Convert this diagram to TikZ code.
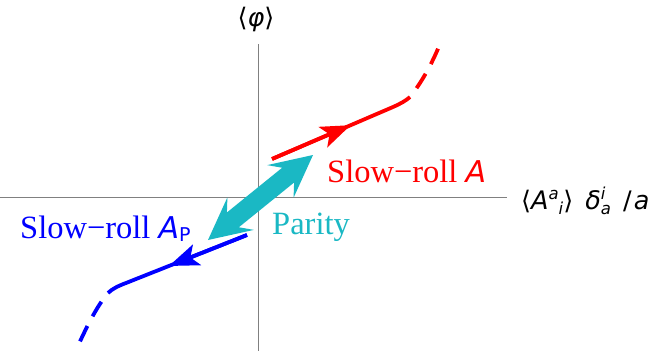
\documentclass[tikz,border=0pt]{standalone}
\usepackage{fontspec}
\setmainfont{Liberation Serif}
\newfontfamily\axf{DejaVu Sans}
\usetikzlibrary{arrows.meta,calc}
\definecolor{parc}{RGB}{26,184,196}
\definecolor{axc}{RGB}{128,128,128}
\newcommand\supx[1]{\raisebox{10pt}{\fontsize{16.5}{16.5}\selectfont\itshape #1}}
\newcommand\subx[1]{\raisebox{-5pt}{\fontsize{16.5}{16.5}\selectfont\itshape #1}}
\begin{document}
\begin{tikzpicture}[x=1pt,y=-1pt,
  axis/.style={draw=axc,line width=1pt},
  curve/.style={line width=3.8pt},
  dashpart/.style={line width=3.8pt,dash pattern=on 17pt off 11pt,dash phase=17pt},
  headtip/.style={-{Stealth[length=30pt,width=22pt,inset=7pt]}},
  dbl/.style={fill=parc},
  lbl/.style={inner sep=0pt,anchor=base west,font=\fontsize{32.5}{33}\selectfont},
  axl/.style={inner sep=0pt,font=\axf\fontsize{25.5}{25.5}\selectfont}]
\useasboundingbox (0,0) rectangle (651,351);
% axes
\coordinate (xl) at (0,197);
\coordinate (xr) at (507,197);
\coordinate (yt) at (258,44);
\coordinate (yb) at (258,351);
\draw[axis] (xl) -- (xr);
\draw[axis] (yt) -- (yb);
% red branch
\coordinate (r0) at (272,159);
\coordinate (r1) at (393,107);
\coordinate (r2) at (410,97);
\coordinate (r3) at (440,44);
\draw[curve,red] (r0) -- (r1) .. controls (401,103.5) and (406,100.5) .. (r2);
\draw[dashpart,red] (r2) .. controls (421,83) and (431,66) .. (r3);
\path (r0) -- (r1) coordinate[pos=0.65] (rm);
\draw[curve,red,headtip] (r0) -- (rm);
% blue branch
\coordinate (b0) at (247,235);
\coordinate (b1) at (126,283);
\coordinate (b2) at (108,293);
\coordinate (b3) at (77,348);
\draw[curve,blue] (b0) -- (b1) .. controls (118,286) and (112,289) .. (b2);
\draw[dashpart,blue] (b2) .. controls (97,306) and (87,326) .. (b3);
\path (b0) -- (b1) coordinate[pos=0.645] (bm);
\draw[curve,blue,headtip] (b0) -- (bm);
% parity double arrow (outline polygon)
\coordinate (pu) at (313,155);
\coordinate (pl) at (208,240);
\fill[dbl] (pl)
  -- ($(pl)!42pt!(pu)!21pt!90:(pu)$)
  -- ($(pl)!32pt!(pu)!9.5pt!90:(pu)$)
  -- ($(pu)!32pt!(pl)!9.5pt!-90:(pl)$)
  -- ($(pu)!42pt!(pl)!21pt!-90:(pl)$)
  -- (pu)
  -- ($(pu)!42pt!(pl)!21pt!90:(pl)$)
  -- ($(pu)!32pt!(pl)!9.5pt!90:(pl)$)
  -- ($(pl)!32pt!(pu)!9.5pt!-90:(pu)$)
  -- ($(pl)!42pt!(pu)!21pt!-90:(pu)$)
  -- cycle;
% labels
\node[lbl,red] (sr) at (327,182) {Slow−roll {\axf\itshape\fontsize{30}{30}\selectfont A}};
\node[lbl,blue] (sb) at (20,238) {Slow−roll {\axf\itshape\fontsize{30}{30}\selectfont A}\raisebox{-3pt}{\axf\fontsize{19}{19}\selectfont P}};
\node[lbl,parc] (par) at (272,234) {Parity};
\node[axl,anchor=base] (ylab) at (256,26) {⟨\textit{φ}⟩};
\node[axl,anchor=base west] (xlab) at (521,209) {⟨\textit{A}\supx{a}\subx{i}⟩\hspace{4pt} \textit{δ}\rlap{\supx{i}}\subx{a}\hspace{4pt} /\hspace{2pt}\textit{a}};
\end{tikzpicture}
\end{document}
